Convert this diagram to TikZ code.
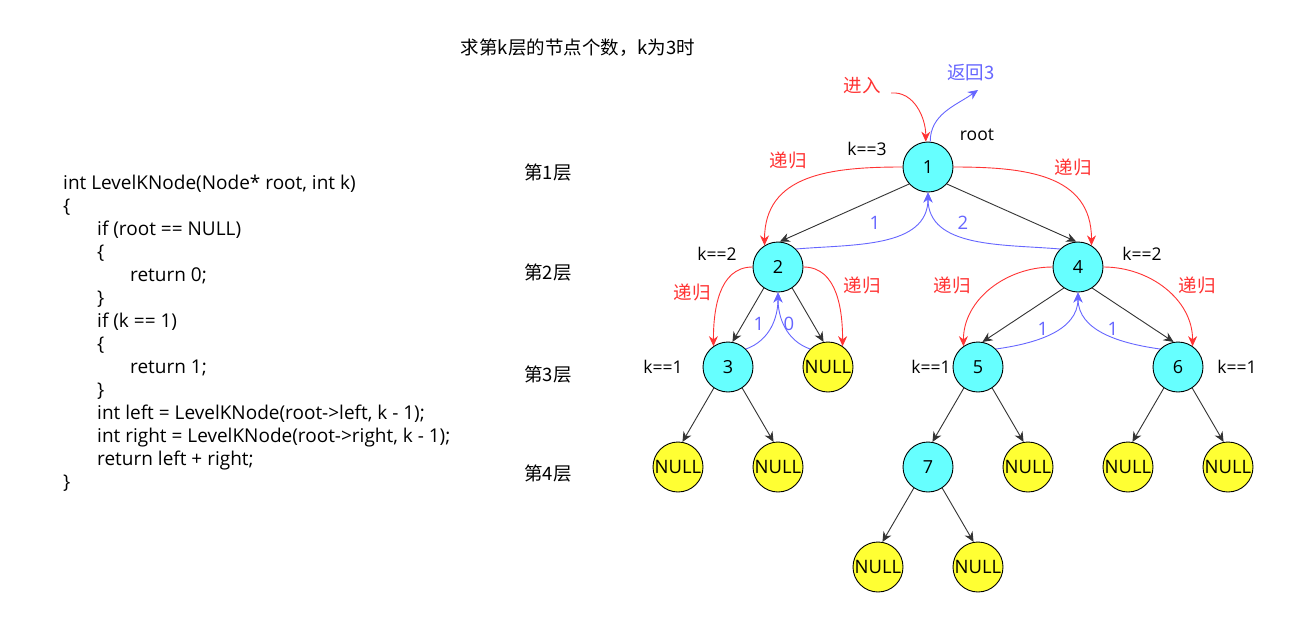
\documentclass[tikz,border=0pt]{standalone}
\usepackage{fontspec}
\setmainfont{Open Sans}
\newfontfamily\cjk{Noto Sans CJK SC}
\usetikzlibrary{arrows.meta}
\definecolor{cyanf}{HTML}{66FFFF}
\definecolor{yelf}{HTML}{FFFF33}
\definecolor{redc}{HTML}{FF3333}
\definecolor{bluec}{HTML}{6666FF}
\definecolor{edgec}{HTML}{333333}
\begin{document}
\begin{tikzpicture}[x=1pt,y=-1pt,
  tn/.style={circle, draw=black, line width=0.9pt, minimum size=50pt, inner sep=0pt, fill=cyanf, font=\fontsize{18}{21}\selectfont},
  nl/.style={tn, fill=yelf, font=\fontsize{18.5}{21}\selectfont},
  blk/.style={draw=edgec, line width=0.9pt, -{Stealth[length=10pt,width=9pt]}},
  redar/.style={draw=redc, line width=0.9pt, -{Stealth[length=10pt,width=9pt]}},
  bluar/.style={draw=bluec, line width=0.9pt, -{Stealth[length=10pt,width=9pt]}},
  lbl/.style={inner sep=0pt, font=\fontsize{17.5}{20}\selectfont},
  cn/.style={inner sep=0pt, font=\cjk\fontsize{18.5}{21}\selectfont},
  rl/.style={cn, text=redc},
  bl/.style={lbl, text=bluec, font=\fontsize{18.5}{20}\selectfont}]
\useasboundingbox (0,0) rectangle (1313,632);
\fill[white] (0,0) rectangle (1313,632);

% title and level labels
\node[cn] (title) at (578,48) {求第k层的节点个数，k为3时};
\node[cn] (lv1) at (548,173) {第1层};
\node[cn] (lv2) at (548,273) {第2层};
\node[cn] (lv3) at (548,374) {第3层};
\node[cn] (lv4) at (548,473) {第4层};

% code
\node[anchor=north west, align=left, inner sep=0pt, font=\fontsize{19}{23}\selectfont] (code) at (63,175) {%
int LevelKNode(Node* root, int k)\\
\{\\
\hspace*{34pt}if (root == NULL)\\
\hspace*{34pt}\{\\
\hspace*{67pt}return 0;\\
\hspace*{34pt}\}\\
\hspace*{34pt}if (k == 1)\\
\hspace*{34pt}\{\\
\hspace*{67pt}return 1;\\
\hspace*{34pt}\}\\
\hspace*{34pt}int left = LevelKNode(root->left, k - 1);\\
\hspace*{34pt}int right = LevelKNode(root->right, k - 1);\\
\hspace*{34pt}return left + right;\\
\}};

% tree nodes
\node[tn] (n1) at (928,167) {1};
\node[tn] (n2) at (778,267) {2};
\node[tn] (n4) at (1078,267) {4};
\node[tn] (n3) at (728,367) {3};
\node[nl] (nA) at (828,367) {NULL};
\node[tn] (n5) at (978,367) {5};
\node[tn] (n6) at (1178,367) {6};
\node[nl] (nB) at (678,467) {NULL};
\node[nl] (nC) at (778,467) {NULL};
\node[tn] (n7) at (928,467) {7};
\node[nl] (nD) at (1028,467) {NULL};
\node[nl] (nE) at (1128,467) {NULL};
\node[nl] (nF) at (1228,467) {NULL};
\node[nl] (nG) at (878,567) {NULL};
\node[nl] (nH) at (978,567) {NULL};

% black tree edges
\draw[blk] (n1.222) -- (n2.86);
\draw[blk] (n1.318) -- (n4.94);
\draw[blk] (n2.236) -- (n3.80);
\draw[blk] (n2.304) -- (nA.100);
\draw[blk] (n4.236) -- (n5.80);
\draw[blk] (n4.304) -- (n6.100);
\draw[blk] (n3.236) -- (nB.80);
\draw[blk] (n3.304) -- (nC.100);
\draw[blk] (n5.236) -- (n7.80);
\draw[blk] (n5.304) -- (nD.100);
\draw[blk] (n6.236) -- (nE.80);
\draw[blk] (n6.304) -- (nF.100);
\draw[blk] (n7.236) -- (nG.80);
\draw[blk] (n7.304) -- (nH.100);

% entry / return
\coordinate (inS) at (891,93);
\coordinate (retE) at (978,90);
\draw[redar] (inS) to[out=5,in=90] (n1.95);
\draw[bluar] (n1.85) to[out=90,in=215] (retE);
\node[rl] (tin) at (862,86) {进入};
\node[cn, text=bluec] (tret) at (971,73) {返回3};
\node[lbl] (troot) at (977,135) {root};
\node[lbl] (k3) at (867,149) {k==3};

% red recursion arcs
\draw[redar] (n1.west) to[out=180,in=90,looseness=1.15] (n2.122);
\draw[redar] (n1.east) to[out=0,in=90,looseness=1.15] (n4.58);
\draw[redar] (n2.west) to[out=180,in=90] (n3.125);
\draw[redar] (n2.east) to[out=0,in=90] (nA.55);
\draw[redar] (n4.west) to[out=180,in=90] (n5.125);
\draw[redar] (n4.east) to[out=0,in=90] (n6.55);
\node[rl] (r1) at (788,160) {递归};
\node[rl] (r2) at (1073,167) {递归};
\node[rl] (r3) at (692,292) {递归};
\node[rl] (r4) at (862,285) {递归};
\node[rl] (r5) at (952,285) {递归};
\node[rl] (r6) at (1197,285) {递归};

% blue return arcs
\draw[bluar] (n2.45) to[out=5,in=-90] (n1.south);
\draw[bluar] (n4.135) to[out=175,in=-90] (n1.south);
\draw[bluar] (n3.45) to[out=20,in=-90] (n2.south);
\draw[bluar] (nA.135) to[out=160,in=-90] (n2.south);
\draw[bluar] (n5.45) to[out=8,in=-90] (n4.south);
\draw[bluar] (n6.135) to[out=172,in=-90] (n4.south);
\node[bl] (b1) at (875,223) {1};
\node[bl] (b2) at (963,223) {2};
\node[bl] (b3) at (759,324) {1};
\node[bl] (b4) at (789,324) {0};
\node[bl] (b5) at (1043,329) {1};
\node[bl] (b6) at (1113,329) {1};

% k labels
\node[lbl] (k2a) at (717,254) {k==2};
\node[lbl] (k2b) at (1142,254) {k==2};
\node[lbl] (k1a) at (663,367) {k==1};
\node[lbl] (k1b) at (931,367) {k==1};
\node[lbl] (k1c) at (1237,367) {k==1};
\end{tikzpicture}
\end{document}
